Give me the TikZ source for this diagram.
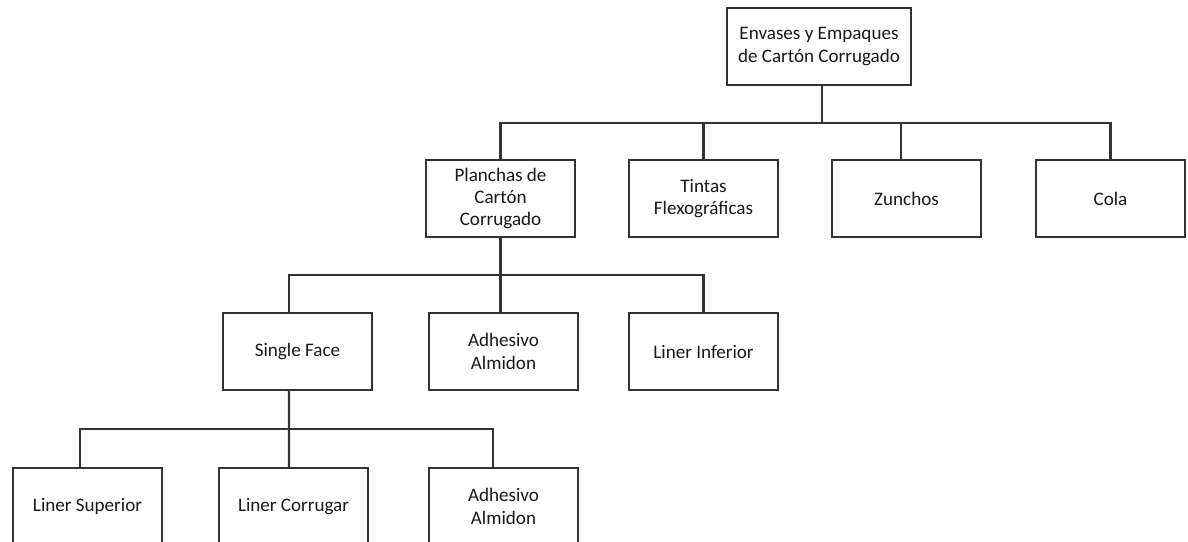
\documentclass[tikz,border=0pt]{standalone}
\usepackage{fontspec}
\setmainfont{Carlito}

\begin{document}
\begin{tikzpicture}[x=0.03cm, y=-0.03cm, line width=1.8pt, black!80,
	box/.style={rectangle, draw=black!80, text=black!90, fill=white, align=center, minimum width=4.47cm, minimum height=2.31cm, font=\fontsize{16.3}{19}\selectfont}]
	\clip (0,0) rectangle (1188,542);
	% nodes
	\node[box, minimum width=5.52cm] (envases) at (819,46.5) {Envases y Empaques\\de Cartón Corrugado};

	\node[box] (planchas) at (500.5,198.5) {Planchas de\\Cartón\\Corrugado};
	\node[box] (tintas) at (703.5,198.5) {Tintas\\Flexográficas};
	\node[box] (zunchos) at (906.5,198.5) {Zunchos};
	\node[box] (cola) at (1110.5,198.5) {Cola};

	\node[box] (single) at (297.5,351.5) {Single Face};
	\node[box] (adhesivo) at (503.5,351.5) {Adhesivo\\Almidon};
	\node[box] (inferior) at (703.5,351.5) {Liner Inferior};

	\node[box] (superior) at (87.5,506.5) {Liner Superior};
	\node[box] (corrugar) at (293.5,506.5) {Liner Corrugar};
	\node[box] (adhesivob) at (503.5,506.5) {Adhesivo\\Almidon};

	% bus points
	\coordinate (bus1) at (822,123);
	\coordinate (bus2) at (500.5,275);
	\coordinate (bus3) at (289,429);

	% edges
	\draw (envases.south -| bus1) -- (bus1);
	\draw (bus1) -| (planchas.north);
	\draw (bus1) -| (tintas.north);
	\draw (bus1) -| ([xshift=-0.165cm]zunchos.north);
	\draw (bus1) -| (cola.north);

	\draw (planchas.south) -- (adhesivo.north -| planchas.south);
	\draw (bus2) -| ([xshift=-0.255cm]single.north);
	\draw (bus2) -| (inferior.north);

	\draw ([xshift=-0.255cm]single.south) -- (corrugar.north -| bus3);
	\draw (bus3) -| ([xshift=-0.225cm]superior.north);
	\draw (bus3) -| ([xshift=-0.315cm]adhesivob.north);
\end{tikzpicture}
\end{document}
